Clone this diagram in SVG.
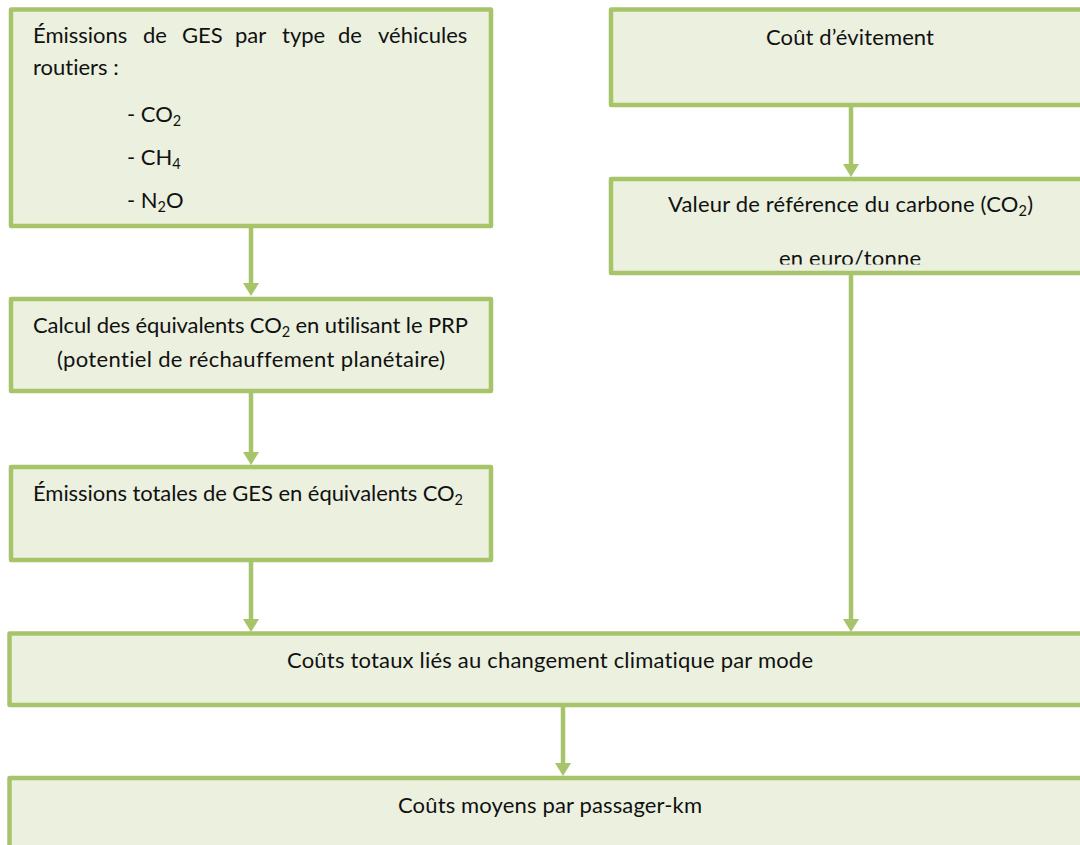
<svg xmlns="http://www.w3.org/2000/svg" width="1080" height="845" viewBox="0 0 1080 845">
<defs>
<style>
.box{fill:#EBF0DF;stroke:#A8C46B;stroke-width:4.5;stroke-linejoin:round}
.t{font-family:Lato,"Liberation Sans",sans-serif;font-size:22px;fill:#111;font-variant-ligatures:none}
.sub{font-size:14.5px}
.con{stroke:#A8C46B;stroke-width:4.5;fill:none}
.ah{fill:#A8C46B}
</style>
<clipPath id="clip3"><rect x="600" y="180" width="480" height="84.5"/></clipPath>
</defs>
<rect width="1080" height="845" fill="#fff"/>
<g id="connectors">
<line class="con" x1="251" y1="228" x2="251" y2="283"/>
<path class="ah" d="M243,283 L259,283 L251,296 Z"/>
<line class="con" x1="251" y1="393" x2="251" y2="452"/>
<path class="ah" d="M243,452 L259,452 L251,465 Z"/>
<line class="con" x1="251" y1="562" x2="251" y2="619"/>
<path class="ah" d="M243,619 L259,619 L251,632 Z"/>
<line class="con" x1="851" y1="107" x2="851" y2="164"/>
<path class="ah" d="M843,164 L859,164 L851,177 Z"/>
<line class="con" x1="851" y1="275" x2="851" y2="619"/>
<path class="ah" d="M843,619 L859,619 L851,632 Z"/>
<line class="con" x1="563" y1="707" x2="563" y2="763"/>
<path class="ah" d="M555,763 L571,763 L563,776 Z"/>
</g>
<g id="n1">
<rect class="box" x="11" y="9.5" width="480" height="216.5"/>
<text class="t" y="43"><tspan x="33">Émissions</tspan><tspan x="143">de</tspan><tspan x="182">GES</tspan><tspan x="235">par</tspan><tspan x="282">type</tspan><tspan x="338">de</tspan><tspan x="378">véhicules</tspan></text>
<text class="t" x="33" y="75">routiers :</text>
<text class="t" x="127" y="122">- CO<tspan class="sub" dy="4">2</tspan></text>
<text class="t" x="127" y="165">- CH<tspan class="sub" dy="4">4</tspan></text>
<text class="t" x="127" y="208">- N<tspan class="sub" dy="4">2</tspan><tspan dy="-4">O</tspan></text>
</g>
<g id="n2">
<rect class="box" x="611" y="9.5" width="480" height="95.5"/>
<text class="t" x="766" y="45" textLength="168" lengthAdjust="spacing">Coût d’évitement</text>
</g>
<g id="n3">
<rect class="box" x="611" y="179" width="480" height="94"/>
<text class="t" x="668" y="212" textLength="365" lengthAdjust="spacing">Valeur de référence du carbone (CO<tspan class="sub" dy="4">2</tspan><tspan dy="-4">)</tspan></text>
<text class="t" x="779" y="266" textLength="142" lengthAdjust="spacing" clip-path="url(#clip3)">en euro/tonne</text>
</g>
<g id="n4">
<rect class="box" x="11" y="299" width="480" height="92"/>
<text class="t" x="33" y="333" textLength="435" lengthAdjust="spacing">Calcul des équivalents CO<tspan class="sub" dy="4">2</tspan><tspan dy="-4"> en utilisant le PRP</tspan></text>
<text class="t" x="57" y="367" textLength="388" lengthAdjust="spacing">(potentiel de réchauffement planétaire)</text>
</g>
<g id="n5">
<rect class="box" x="11" y="467" width="480" height="93"/>
<text class="t" x="33" y="501" textLength="430" lengthAdjust="spacing">Émissions totales de GES en équivalents CO<tspan class="sub" dy="4">2</tspan></text>
</g>
<g id="n6">
<rect class="box" x="9.5" y="633.5" width="1080" height="71.5"/>
<text class="t" x="287" y="668" textLength="526" lengthAdjust="spacing">Coûts totaux liés au changement climatique par mode</text>
</g>
<g id="n7">
<rect class="box" x="9.5" y="778" width="1080" height="90"/>
<text class="t" x="398" y="813" textLength="304" lengthAdjust="spacing">Coûts moyens par passager-km</text>
</g>
</svg>
